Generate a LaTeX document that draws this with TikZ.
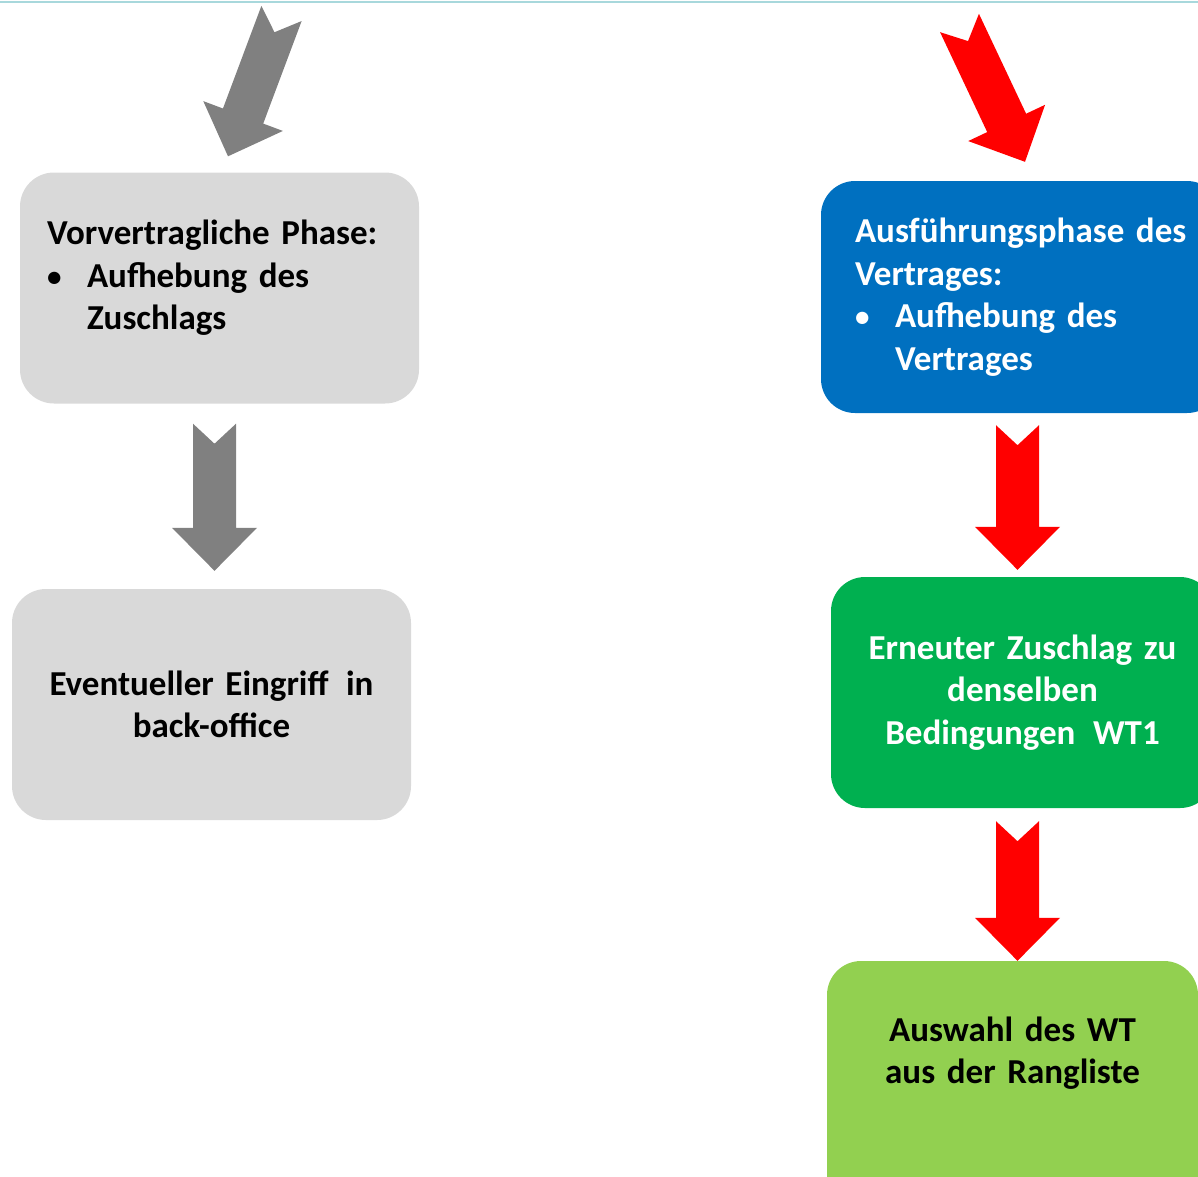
\documentclass[tikz,border=0pt]{standalone}
\usepackage{fontspec}
\setmainfont{Carlito}
\usepackage{tikz}
\usetikzlibrary{calc}
\definecolor{boxgray}{RGB}{217,217,217}
\definecolor{boxblue}{RGB}{0,112,192}
\definecolor{boxgreen}{RGB}{0,176,80}
\definecolor{boxlime}{RGB}{146,208,80}
\definecolor{arrgray}{RGB}{128,128,128}
\definecolor{arrred}{RGB}{255,0,0}
\definecolor{topline}{RGB}{168,216,220}
\tikzstyle{phase} =
[rectangle, rounded corners = 34pt, minimum width = 399pt, minimum height = 231pt,
inner sep = 0pt, text centered, draw = none,
font = \fontsize{35}{42.5}\selectfont\bfseries]
\tikzstyle{grayphase} = [phase, fill=boxgray, text=black]
\tikzstyle{bluephase} = [phase, fill=boxblue, text=white]
\tikzstyle{greenphase} = [phase, fill=boxgreen, text=white]
\tikzstyle{limephase} = [phase, fill=boxlime, text=black]
\tikzstyle{blockarrow} =
[draw=none, to path={
 ($(\tikztotarget)!43pt!(\tikztostart)$) coordinate (bah)
 ($(\tikztostart)!21.5pt!90:(\tikztotarget)$)
 -- ($(\tikztostart)!20pt!(\tikztotarget)$)
 -- ($(\tikztostart)!21.5pt!-90:(\tikztotarget)$)
 -- ($(bah)!21.5pt!-90:(\tikztotarget)$)
 -- ($(bah)!42.5pt!-90:(\tikztotarget)$)
 -- (\tikztotarget)
 -- ($(bah)!42.5pt!90:(\tikztotarget)$)
 -- ($(bah)!21.5pt!90:(\tikztotarget)$)
 -- cycle}]
\tikzstyle{grayarrow} = [blockarrow, fill=arrgray]
\tikzstyle{redarrow} = [blockarrow, fill=arrred]
\newcommand{\bulletitem}{\makebox[40pt][l]{\raisebox{1pt}{\fontsize{29}{0}\selectfont\textbullet}}}
\newcommand{\widegap}{\hspace{0.5em}}
\begin{document}
\begin{tikzpicture}[x=1pt, y=-1pt]
  \useasboundingbox (0,0) rectangle (1198,1176);
  \clip (0,0) rectangle (1198,1176);
  \draw [topline, line width=2.5pt] (0,2) -- (1198,2);
  % left column
  \node [grayphase, text width=345pt, align=left] (vorphase) at (219.5,288)
   {Vorvertragliche Phase:\\
    \bulletitem Aufhebung des\\
    \hspace*{40pt}Zuschlags\par\vspace*{20pt}};
  \node [grayphase, text width=360pt, below of=vorphase, node distance=416.5pt,
   xshift=-8pt] (backoffice) {Eventueller Eingriff\widegap in\\back-office};
  % right column
  \node [bluephase, minimum width=400pt, minimum height=232pt, text width=332pt,
   align=left] (ausphase) at (1021,297)
   {Ausführungsphase des\\
    Vertrages:\\
    \bulletitem Aufhebung des\\
    \hspace*{40pt}Vertrages};
  \node [greenphase, minimum width=383pt, text width=340pt, below of=ausphase,
   node distance=395.5pt, xshift=1.5pt] (zuschlag)
   {Erneuter Zuschlag zu\\denselben\\Bedingungen\widegap WT1};
  \node [limephase, minimum width=371pt, minimum height=280pt, text width=330pt,
   below of=zuschlag, node distance=408.5pt, xshift=-10pt] (auswahl)
   {Auswahl des WT\\aus der Rangliste\par\vspace*{96pt}};
  % arrow ends
  \coordinate (grayin) at (281.5,13.5);
  \coordinate (redin) at (959.5,23);
  \coordinate (g1s) at ($(vorphase.south)+(-5,20)$);
  \coordinate (g1e) at ($(backoffice.north)+(3,-18)$);
  \coordinate (r1s) at ($(ausphase.south)+(-3.5,12)$);
  \coordinate (r1e) at ($(zuschlag.north)+(-5,-7)$);
  \coordinate (r2s) at ($(zuschlag.south)+(-5,13)$);
  \coordinate (r2e) at ($(auswahl.north)+(5,0)$);
  \coordinate (g0e) at ($(vorphase.north)+(8.5,-16)$);
  \coordinate (r0e) at ($(ausphase.north)+(4,-19)$);
  % arrows
  \path [grayarrow] (grayin) to (g0e);
  \path [grayarrow] (g1s) to (g1e);
  \path [redarrow] (redin) to (r0e);
  \path [redarrow] (r1s) to (r1e);
  \path [redarrow] (r2s) to (r2e);
\end{tikzpicture}
\end{document}
